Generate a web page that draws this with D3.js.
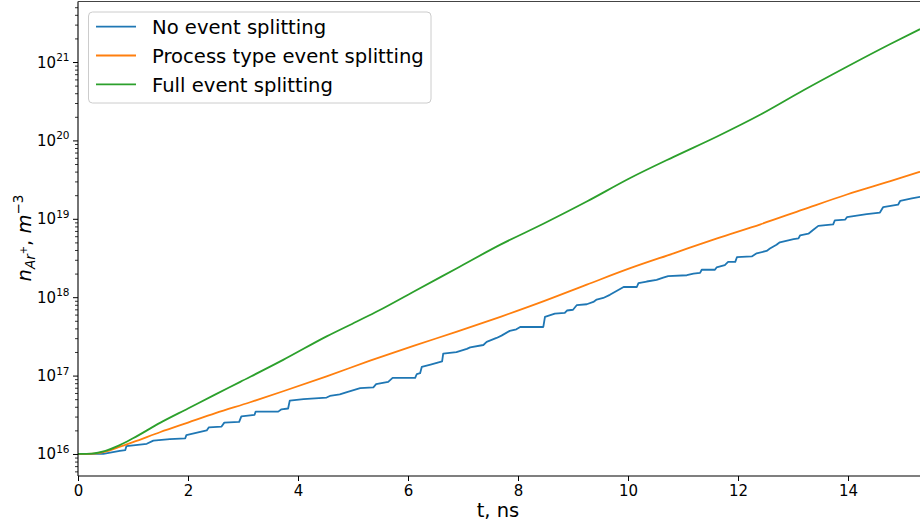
<!DOCTYPE html>
<html>
<head>
<meta charset="utf-8">
<script src="https://cdn.jsdelivr.net/npm/d3@7"></script>
<style>
  html, body { margin: 0; padding: 0; background: #fff; }
  svg { display: block; }
  text { font-family: "DejaVu Sans", sans-serif; }
</style>
</head>
<body>
<svg id="chart" width="920" height="527"></svg>
<script>
// ---- data (t in ns, density exponent log10(n / m^-3)) ----
const seriesNames = ["No event splitting", "Process type event splitting", "Full event splitting"];
const seriesColors = ["#1f77b4", "#ff7f0e", "#2ca02c"];

const tNone = [0,0.46,0.76,0.86,0.88,1.25,1.37,1.67,1.95,1.97,2.34,2.38,2.61,2.66,2.93,2.97,3.21,3.23,3.64,3.70,3.82,3.85,4.10,4.52,4.58,4.76,4.89,5.13,5.37,5.42,5.64,5.72,6.13,6.16,6.22,6.25,6.41,6.62,6.64,6.88,7.07,7.13,7.37,7.43,7.61,7.70,7.85,7.97,8.04,8.46,8.49,8.67,8.85,8.89,9.00,9.07,9.25,9.37,9.43,9.55,9.67,9.92,10.16,10.19,10.34,10.52,10.64,10.73,11.07,11.19,11.31,11.34,11.58,11.61,11.76,11.82,11.95,11.98,12.25,12.34,12.52,12.58,12.70,12.76,13.01,13.10,13.13,13.28,13.37,13.46,13.73,13.76,13.95,13.98,14.16,14.34,14.58,14.64,14.91,14.95,15.16,15.31];
const expNone = [16.0,16.0,16.04,16.05,16.10,16.13,16.17,16.19,16.20,16.24,16.30,16.34,16.35,16.40,16.41,16.48,16.50,16.54,16.54,16.57,16.58,16.68,16.70,16.72,16.74,16.76,16.79,16.84,16.85,16.89,16.92,16.97,16.97,17.02,17.03,17.11,17.14,17.18,17.28,17.30,17.34,17.36,17.39,17.43,17.48,17.51,17.57,17.59,17.62,17.62,17.75,17.79,17.80,17.83,17.84,17.90,17.91,17.94,17.97,17.99,18.03,18.13,18.13,18.18,18.20,18.22,18.25,18.27,18.28,18.30,18.31,18.35,18.35,18.38,18.41,18.45,18.45,18.51,18.52,18.56,18.59,18.62,18.67,18.70,18.74,18.75,18.79,18.81,18.86,18.91,18.93,18.98,18.99,19.02,19.04,19.06,19.08,19.15,19.18,19.23,19.26,19.28];

const tProcess = [0,0.3,0.5,0.75,1.0,1.5,2.0,2.5,3.13,3.73,4.52,5.31,6.10,6.89,7.68,8.47,9.25,10.04,10.83,11.62,12.41,13.19,13.98,14.77,15.31];
const expProcess = [16.0,16.005,16.03,16.09,16.15,16.28,16.40,16.52,16.66,16.80,16.99,17.19,17.38,17.56,17.75,17.95,18.16,18.37,18.56,18.75,18.93,19.12,19.31,19.48,19.60];

const tFull = [0,0.25,0.5,0.75,1.0,1.5,2.0,2.5,2.95,3.73,4.52,5.07,5.47,6.10,6.89,7.68,8.47,9.25,10.04,10.83,11.62,12.41,13.19,13.98,14.77,15.31];
const expFull = [16.0,16.005,16.04,16.11,16.20,16.40,16.58,16.76,16.92,17.20,17.50,17.69,17.83,18.07,18.37,18.67,18.94,19.22,19.52,19.79,20.05,20.33,20.64,20.94,21.23,21.42];

const xTicks = [0, 2, 4, 6, 8, 10, 12, 14];
const yDecades = [16, 17, 18, 19, 20, 21];

// ---- layout ----
const mLeft = 78, mRight = 922, mTop = 1.5, mBottom = 476;
const svg = d3.select("#chart");

const x = d3.scaleLinear().domain([0, 15.345]).range([mLeft, mRight]);
const y = d3.scaleLog().domain([Math.pow(10, 15.719), Math.pow(10, 21.772)]).range([mBottom, mTop]);

svg.append("defs").append("clipPath").attr("id", "plotclip")
  .append("rect").attr("x", mLeft).attr("y", mTop).attr("width", mRight - mLeft).attr("height", mBottom - mTop);

// ---- lines ----
const allT = [tNone, tProcess, tFull];
const allE = [expNone, expProcess, expFull];
const curves = [d3.curveLinear, d3.curveMonotoneX, d3.curveMonotoneX];
const plot = svg.append("g").attr("clip-path", "url(#plotclip)");
allT.forEach((ts, i) => {
  const pts = ts.map((t, j) => [t, allE[i][j]]);
  const line = d3.line().curve(curves[i]).x(d => x(d[0])).y(d => y(Math.pow(10, d[1])));
  plot.append("path").datum(pts)
    .attr("d", line)
    .attr("fill", "none")
    .attr("stroke", seriesColors[i])
    .attr("stroke-width", 1.8)
    .attr("stroke-linejoin", "round");
});

// ---- axes ----
const xAxis = svg.append("g").attr("transform", `translate(0,${mBottom})`)
  .call(d3.axisBottom(x).tickValues(xTicks).tickSize(5).tickPadding(4).tickFormat(d3.format("d")));
xAxis.select(".domain").remove();
xAxis.selectAll("line").attr("stroke", "#000").attr("stroke-width", 1);
xAxis.selectAll("text").attr("font-size", 15).attr("fill", "#000").attr("font-family", "DejaVu Sans");

// minor y ticks
const minorVals = [];
for (let e = 15; e <= 21; e++) for (let m = 2; m <= 9; m++) {
  const v = m * Math.pow(10, e);
  if (v >= y.domain()[0] && v <= y.domain()[1]) minorVals.push(v);
}
const yMinor = svg.append("g").attr("transform", `translate(${mLeft},0)`)
  .call(d3.axisLeft(y).tickValues(minorVals).tickSize(3).tickFormat(""));
yMinor.select(".domain").remove();
yMinor.selectAll("line").attr("stroke", "#000").attr("stroke-width", 0.8);

const yMajor = svg.append("g").attr("transform", `translate(${mLeft},0)`)
  .call(d3.axisLeft(y).tickValues(yDecades.map(e => Math.pow(10, e))).tickSize(5).tickFormat(""));
yMajor.select(".domain").remove();
yMajor.selectAll("line").attr("stroke", "#000").attr("stroke-width", 1);
yMajor.selectAll(".tick").each(function(d, i) {
  const t = d3.select(this).append("text")
    .attr("x", -8.5).attr("y", 5).attr("text-anchor", "end")
    .attr("fill", "#000").attr("font-size", 15);
  t.append("tspan").text("10");
  t.append("tspan").attr("font-size", 10.5).attr("dy", -6.5).text(String(yDecades[i]));
});

// spines
svg.append("line").attr("x1", mLeft).attr("x2", mLeft).attr("y1", mTop).attr("y2", mBottom)
  .attr("stroke", "#000").attr("stroke-width", 1.1);
svg.append("line").attr("x1", mLeft).attr("x2", mRight).attr("y1", mBottom).attr("y2", mBottom)
  .attr("stroke", "#000").attr("stroke-width", 1.1);
svg.append("line").attr("x1", mLeft).attr("x2", mRight).attr("y1", mTop).attr("y2", mTop)
  .attr("stroke", "#444").attr("stroke-width", 1.1);

// ---- axis labels ----
svg.append("text").attr("x", 498).attr("y", 517).attr("text-anchor", "middle")
  .attr("font-size", 19.5).attr("fill", "#000").text("t, ns");

const yl = svg.append("text")
  .attr("transform", "translate(31,238) rotate(-90)")
  .attr("text-anchor", "middle").attr("font-size", 19.5).attr("fill", "#000");
yl.append("tspan").attr("font-style", "italic").text("n");
yl.append("tspan").attr("font-style", "italic").attr("font-size", 13.5).attr("dy", 4).text("Ar");
yl.append("tspan").attr("font-size", 10).attr("dy", -8).text("+");
yl.append("tspan").attr("dy", 4).text(", ");
yl.append("tspan").attr("font-style", "italic").text("m");
yl.append("tspan").attr("font-size", 13.5).attr("dy", -8).text("\u22123");

// ---- legend ----
const lg = svg.append("g");
lg.append("rect").attr("x", 88.5).attr("y", 12).attr("width", 342.5).attr("height", 91)
  .attr("rx", 4).attr("fill", "#fff").attr("fill-opacity", 0.8)
  .attr("stroke", "#cccccc").attr("stroke-width", 1);
seriesNames.forEach((name, i) => {
  const cy = 26.7 + i * 28.8;
  lg.append("line").attr("x1", 96).attr("x2", 136).attr("y1", cy).attr("y2", cy)
    .attr("stroke", seriesColors[i]).attr("stroke-width", 1.8);
  lg.append("text").attr("x", 152).attr("y", cy + 7.3).attr("font-size", 19.6)
    .attr("fill", "#000").text(name);
});
</script>
</body>
</html>
